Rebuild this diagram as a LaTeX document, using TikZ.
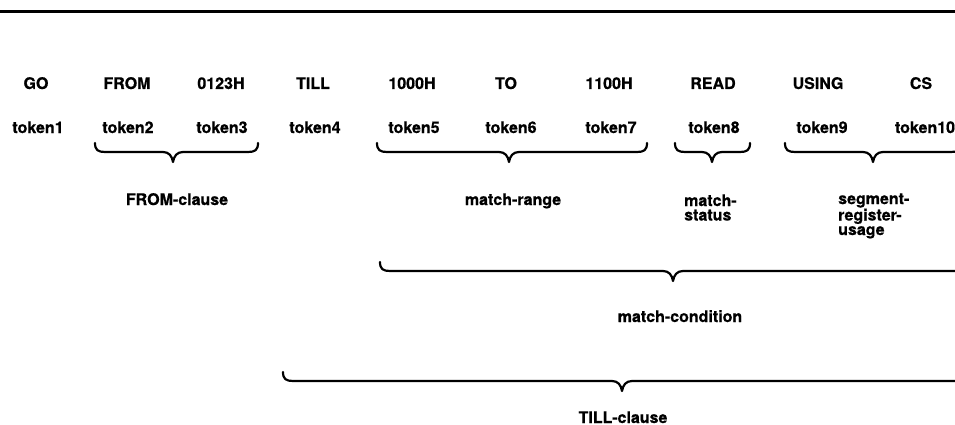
\documentclass[tikz,border=0pt]{standalone}
\usepackage{fontspec}
\setmainfont[BoldFeatures={FakeBold=0.6}]{TeX Gyre Heros}

% Under-brace: left end, tip, right end, height of the horizontal stroke
\newcommand\clausebrace[4]{%
  \draw[bracestroke]
    (#1,#4-9) .. controls (#1,#4-2) and (#1+3,#4) .. (#1+10,#4)
    -- (#2-10,#4) .. controls (#2-4,#4) and (#2-1,#4+4) .. (#2,#4+10)
    .. controls (#2+1,#4+4) and (#2+4,#4) .. (#2+10,#4)
    -- (#3-10,#4) .. controls (#3-3,#4) and (#3,#4-2) .. (#3,#4-9);}

\begin{document}
\begin{tikzpicture}[x=1pt,y=-1pt,
  word/.style={font=\bfseries\fontsize{16}{14.5}\selectfont, inner sep=0pt, anchor=base},
  clause/.style={word},
  stacked/.style={word, anchor=base west, align=left},
  bracestroke/.style={line width=2.2pt, line cap=round, line join=round},
  toprule/.style={line width=2.8pt}]
\clip (0,0) rectangle (955,425);
\fill[white] (0,0) rectangle (955,425);

\draw[toprule] (0,11.5) -- (955,11.5);

% source words
\node[word] (w1)  at (36,89)  {GO};
\node[word] (w2)  at (127,89) {FROM};
\node[word] (w3)  at (221,89) {0123H};
\node[word] (w4)  at (313,89) {TILL};
\node[word] (w5)  at (412,89) {1000H};
\node[word] (w6)  at (506,89) {TO};
\node[word] (w7)  at (609,89) {1100H};
\node[word] (w8)  at (713,89) {READ};
\node[word] (w9)  at (818,89) {USING};
\node[word] (w10) at (921,89) {CS};

% tokens
\node[word] (t1)  at (38,133)  {token1};
\node[word] (t2)  at (128,133) {token2};
\node[word] (t3)  at (222,133) {token3};
\node[word] (t4)  at (315,133) {token4};
\node[word] (t5)  at (414,133) {token5};
\node[word] (t6)  at (511,133) {token6};
\node[word] (t7)  at (611,133) {token7};
\node[word] (t8)  at (714,133) {token8};
\node[word] (t9)  at (822,133) {token9};
\node[word] (t10) at (925,133) {token10};

% first-level groupings
\clausebrace{95}{173}{258}{152}
\clausebrace{377}{509}{647}{152}
\clausebrace{675}{712}{750}{152}
\clausebrace{785}{873}{961}{152}

\node[clause]  (fromc)  at (177,205) {FROM-clause};
\node[clause]  (range)  at (513,205) {match-range};
% stacked labels sit on the baseline of their last line
\node[stacked] (status) at (684,220.5) {match-\\status};
\node[stacked] (segreg) at (838,235) {segment-\\register-\\usage};

% second level
\clausebrace{380}{673}{965}{271}
\node[clause] (cond) at (680,322) {match-condition};

% third level
\clausebrace{283}{622}{965}{381}
\node[clause] (till) at (623,423) {TILL-clause};
\end{tikzpicture}
\end{document}
